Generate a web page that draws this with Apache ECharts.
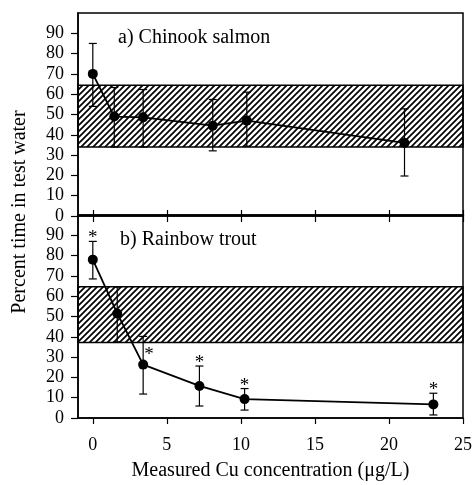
<!DOCTYPE html>
<html>
<head>
<meta charset="utf-8">
<script src="https://cdn.jsdelivr.net/npm/echarts@6/dist/echarts.min.js"></script>
<style>
  html, body { margin: 0; padding: 0; background: #fff; }
  #chart { width: 475px; height: 485px; }
</style>
</head>
<body>
<div id="chart"></div>
<script>
// a) Chinook salmon
var concA = [0, 1.45, 3.4, 8.1, 10.4, 21.05]
var timeA = [70, 49, 48.6, 44.5, 47, 36]
var errHiA = [85, 63.3, 62.3, 57.4, 61, 52.8]
var errLoA = [54, 34, 34, 32.1, 34.4, 19.7]
var sigA = [0, 0, 0, 0, 0, 0]
var bandA = [34, 64.4]

// b) Rainbow trout
var concB = [0, 1.65, 3.4, 7.2, 10.25, 23]
var timeB = [78, 51.5, 26.3, 15.8, 9.3, 6.7]
var errHiB = [87, 64.5, 40.2, 25.6, 14.5, 12.2]
var errLoB = [68.5, 37.5, 11.8, 5.9, 3.9, 1.5]
var sigB = [1, 0, 1, 1, 1, 1]
var bandB = [37.2, 64.7]

var xTicks = [0, 5, 10, 15, 20, 25]
var yTicks = [0, 10, 20, 30, 40, 50, 60, 70, 80, 90]

var FONT = '"Liberation Serif", "Times New Roman", serif'

function hatch () {
  var c = document.createElement('canvas')
  c.width = 6
  c.height = 6
  var g = c.getContext('2d')
  g.strokeStyle = '#000'
  g.lineWidth = 1.7
  g.beginPath()
  g.moveTo(0, 6); g.lineTo(6, 0)
  g.moveTo(-1, 1); g.lineTo(1, -1)
  g.moveTo(5, 7); g.lineTo(7, 5)
  g.stroke()
  return c
}
var pattern = { image: hatch(), repeat: 'repeat' }

function errRender (band) {
  return function (params, api) {
    var x = api.value(0)
    var lo = api.coord([x, api.value(1)])
    var hi = api.coord([x, api.value(2)])
    var w = 4
    var st = { stroke: '#000', lineWidth: 1.2 }
    var kids = [
      { type: 'line', shape: { x1: lo[0], y1: lo[1], x2: hi[0], y2: hi[1] }, style: st },
      { type: 'line', shape: { x1: hi[0] - w, y1: hi[1], x2: hi[0] + w, y2: hi[1] }, style: st },
      { type: 'line', shape: { x1: lo[0] - w, y1: lo[1], x2: lo[0] + w, y2: lo[1] }, style: st }
    ]
    if (api.value(3)) {
      // star goes beside the bar when its cap sits just under the band
      var beside = api.value(2) > band[0] && api.value(2) < band[1]
      kids.push({
        type: 'text',
        x: beside ? hi[0] + 1 : hi[0],
        y: beside ? hi[1] + 19 : hi[1] - 3,
        style: { text: '*', font: '19px ' + FONT, fill: '#000', align: beside ? 'left' : 'center', verticalAlign: 'middle' }
      })
    }
    return { type: 'group', children: kids }
  }
}

function errData (xs, lo, hi, sig) {
  return xs.map(function (x, i) { return [x, lo[i], hi[i], sig[i]] })
}

function lineData (xs, ys) {
  return xs.map(function (x, i) { return [x, ys[i]] })
}

var axisLine = { onZero: false, lineStyle: { color: '#000', width: 1.5 } }

function yAxis (grid) {
  return {
    gridIndex: grid,
    type: 'value',
    min: 0,
    max: 100,
    splitLine: { show: false },
    axisLine: axisLine,
    axisTick: { customValues: yTicks, length: 7, lineStyle: { color: '#000', width: 1.2 } },
    axisLabel: { customValues: yTicks, color: '#000', fontFamily: FONT, fontSize: 18, margin: 14 }
  }
}

var chart = echarts.init(document.getElementById('chart'))
chart.setOption({
  animation: false,
  backgroundColor: '#fff',
  grid: [
    { left: 78, top: 13, width: 385, height: 203, show: true, borderColor: '#000', borderWidth: 1.5 },
    { left: 78, top: 215, width: 385, height: 203, show: true, borderColor: '#000', borderWidth: 1.5 }
  ],
  xAxis: [
    {
      gridIndex: 0, type: 'value', min: -1, max: 25,
      splitLine: { show: false }, axisLine: axisLine,
      axisTick: { customValues: xTicks, inside: true, length: 6, lineStyle: { color: '#000', width: 1.2 } },
      axisLabel: { show: false }
    },
    {
      gridIndex: 1, type: 'value', min: -1, max: 25,
      splitLine: { show: false }, axisLine: axisLine,
      axisTick: { customValues: xTicks, length: 6, lineStyle: { color: '#000', width: 1.2 } },
      axisLabel: { customValues: xTicks, color: '#000', fontFamily: FONT, fontSize: 18, margin: 18 },
      name: 'Measured Cu concentration (\u03bcg/L)',
      nameLocation: 'middle',
      nameGap: 43,
      nameTextStyle: { color: '#000', fontFamily: FONT, fontSize: 20, verticalAlign: 'top' }
    },
    {
      gridIndex: 1, type: 'value', min: -1, max: 25, position: 'top',
      splitLine: { show: false }, axisLine: axisLine,
      axisTick: { customValues: xTicks, inside: true, length: 7, lineStyle: { color: '#000', width: 1.2 } },
      axisLabel: { show: false }
    }
  ],
  yAxis: [yAxis(0), yAxis(1)],
  graphic: [
    { type: 'text', x: 118, y: 38, style: { text: 'a) Chinook salmon', font: '20px ' + FONT, fill: '#000', verticalAlign: 'middle' } },
    { type: 'text', x: 120, y: 240, style: { text: 'b) Rainbow trout', font: '20px ' + FONT, fill: '#000', verticalAlign: 'middle' } },
    { type: 'text', x: 20, y: 212, rotation: Math.PI / 2, style: { text: 'Percent time in test water', font: '20px ' + FONT, fill: '#000', align: 'center', verticalAlign: 'middle' } }
  ],
  series: [
    {
      type: 'line', xAxisIndex: 0, yAxisIndex: 0,
      data: lineData(concA, timeA),
      symbol: 'circle', symbolSize: 10,
      itemStyle: { color: '#000' },
      lineStyle: { color: '#000', width: 1.8 },
      z: 4,
      markArea: {
        silent: true,
        itemStyle: { color: pattern, borderColor: '#000', borderWidth: 1.5 },
        data: [[{ yAxis: bandA[0] }, { yAxis: bandA[1] }]]
      }
    },
    {
      type: 'custom', xAxisIndex: 0, yAxisIndex: 0,
      renderItem: errRender(bandA),
      encode: { x: 0, y: [1, 2] },
      data: errData(concA, errLoA, errHiA, sigA),
      z: 3
    },
    {
      type: 'line', xAxisIndex: 1, yAxisIndex: 1,
      data: lineData(concB, timeB),
      symbol: 'circle', symbolSize: 10,
      itemStyle: { color: '#000' },
      lineStyle: { color: '#000', width: 1.8 },
      z: 4,
      markArea: {
        silent: true,
        itemStyle: { color: pattern, borderColor: '#000', borderWidth: 1.5 },
        data: [[{ yAxis: bandB[0] }, { yAxis: bandB[1] }]]
      }
    },
    {
      type: 'custom', xAxisIndex: 1, yAxisIndex: 1,
      renderItem: errRender(bandB),
      encode: { x: 0, y: [1, 2] },
      data: errData(concB, errLoB, errHiB, sigB),
      z: 3
    }
  ]
})
</script>
</body>
</html>
